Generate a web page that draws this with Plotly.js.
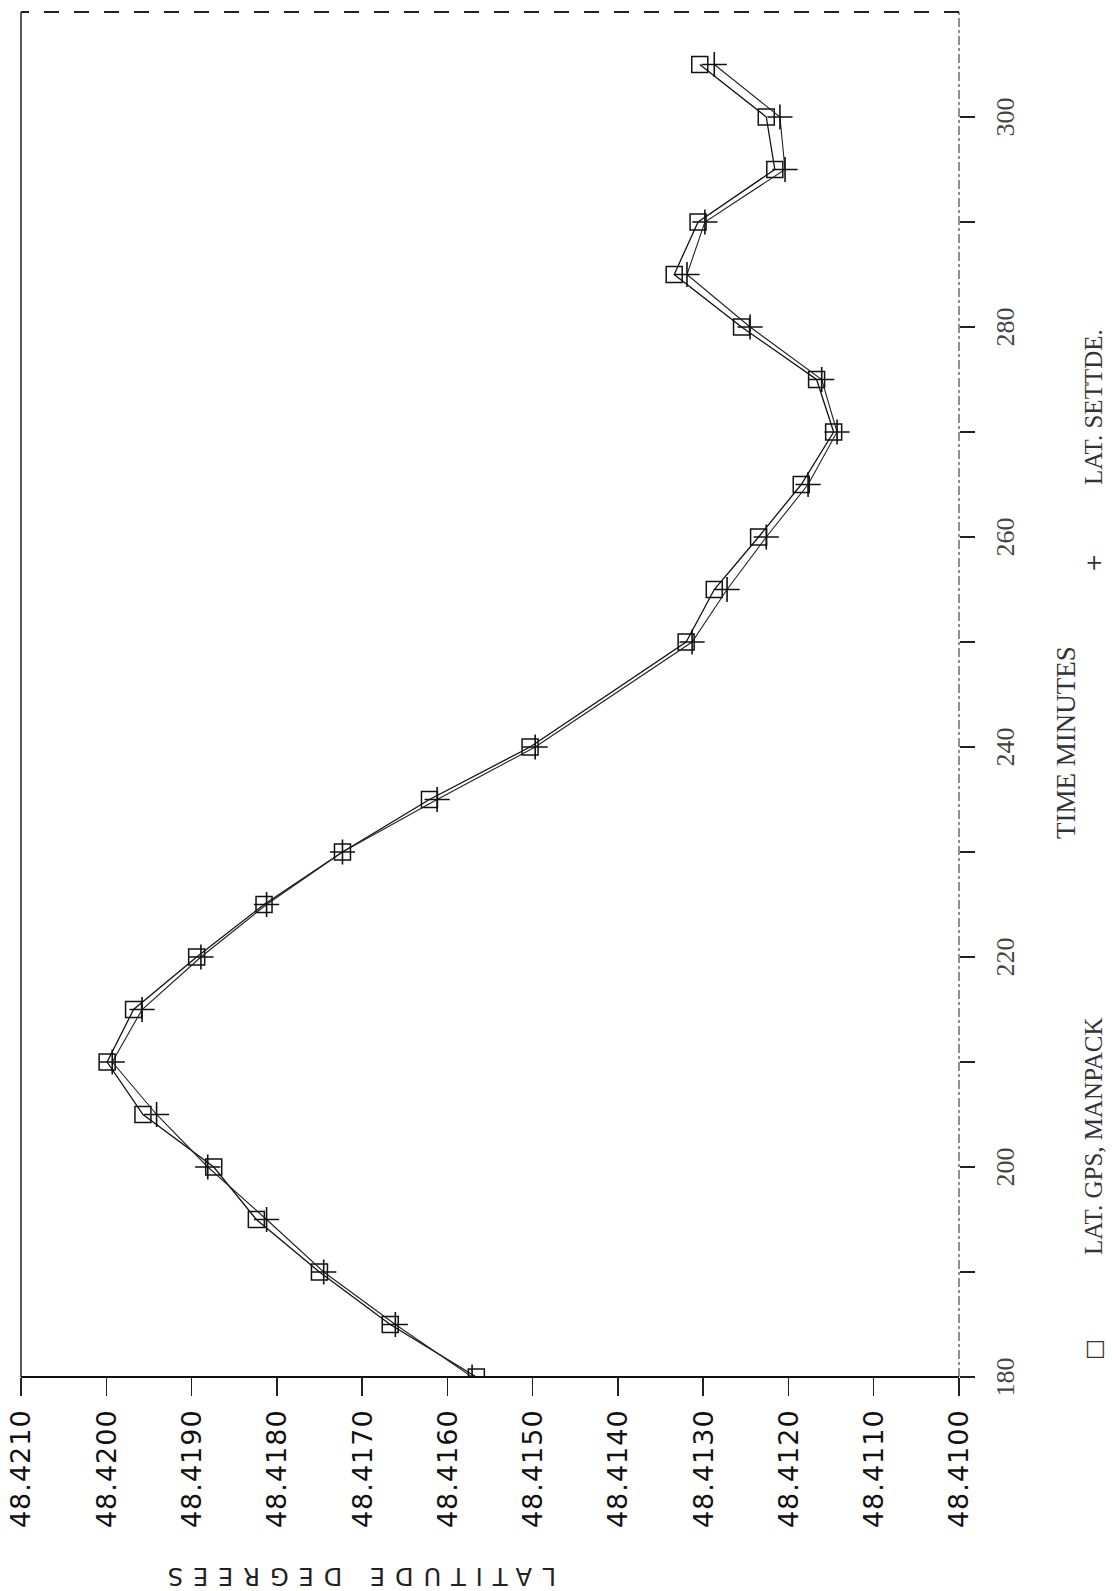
<!DOCTYPE html>
<html>
<head>
<meta charset="utf-8">
<script src="https://cdn.plot.ly/plotly-3.0.1.min.js"></script>
<style>
  html, body { margin: 0; padding: 0; width: 1112px; height: 1591px; overflow: hidden; background: #fff; }
  #chart { position: absolute; left: 0; top: 0; width: 1591px; height: 1112px;
           transform-origin: 0 0; transform: translate(0px, 1591px) rotate(-90deg); }
  .ytick text { letter-spacing: 1px; }
</style>
</head>
<body>
<div id="chart"></div>
<script>
// Time in minutes
const timeMinutes = [180, 185, 190, 195, 200, 205, 210, 215, 220, 225, 230, 235, 240,
                     250, 255, 260, 265, 270, 275, 280, 285, 290, 295, 300, 305];
// Latitude from GPS manpack (squares)
const latGpsManpack = [48.41566, 48.41667, 48.41750, 48.41824, 48.41874, 48.41957, 48.41999,
                       48.41968, 48.41894, 48.41815, 48.41723, 48.41621, 48.41503,
                       48.41320, 48.41287, 48.41235, 48.41185, 48.41147, 48.41167,
                       48.41255, 48.41334, 48.41306, 48.41216, 48.41226, 48.41304];
// Second latitude series (crosses)
const latSecond = [48.41571, 48.41661, 48.41745, 48.41812, 48.41881, 48.41941, 48.41993,
                   48.41958, 48.41889, 48.41812, 48.41723, 48.41612, 48.41497,
                   48.41313, 48.41272, 48.41226, 48.41177, 48.41143, 48.41161,
                   48.41245, 48.41319, 48.41298, 48.41204, 48.41210, 48.41287];

const timeTickVals = [180, 190, 200, 210, 220, 230, 240, 250, 260, 270, 280, 290, 300];
const timeTickText = ['180', '', '200', '', '220', '', '240', '', '260', '', '280', '', '300'];
const latTickVals = [48.4100, 48.4110, 48.4120, 48.4130, 48.4140, 48.4150, 48.4160,
                     48.4170, 48.4180, 48.4190, 48.4200, 48.4210];
const latTickText = ['48.4100', '48.4110', '48.4120', '48.4130', '48.4140', '48.4150', '48.4160',
                     '48.4170', '48.4180', '48.4190', '48.4200', '48.4210'];

const xTitle = 'TIME MINUTES';
const yTitle = 'LATITUDE DEGREES';
const legend1 = 'LAT. GPS, MANPACK';
const legend2 = 'LAT. SETTDE.';

// plot area in landscape pixels
const W = 1591, H = 1112;
const M = {l: 214, r: 12, t: 21, b: 153};
const pw = W - M.l - M.r, ph = H - M.t - M.b;
const px = v => (v - M.l) / pw;
const py = v => 1 - (v - M.t) / ph;

const traces = [
  {
    x: timeMinutes, y: latGpsManpack, type: 'scatter', mode: 'lines+markers',
    line: {color: '#111', width: 1.3},
    marker: {symbol: 'square-open', size: 16, color: '#111', line: {width: 1.5, color: '#111'}},
    showlegend: false
  },
  {
    x: timeMinutes, y: latSecond, type: 'scatter', mode: 'lines+markers',
    line: {color: '#222', width: 1.1},
    marker: {symbol: 'cross-thin-open', size: 18, color: '#111', line: {width: 1.6, color: '#111'}},
    showlegend: false
  }
];

const labelFont = {family: 'Liberation Serif, serif', size: 25, color: '#333'};

const layout = {
  width: W, height: H,
  margin: M,
  paper_bgcolor: '#fff', plot_bgcolor: '#fff',
  showlegend: false,
  xaxis: {
    range: [180, 310], showgrid: false, zeroline: false, showline: false,
    tickmode: 'array', tickvals: timeTickVals, ticktext: timeTickText,
    ticks: 'outside', ticklen: 15, tickwidth: 1.5, tickcolor: '#222',
    ticklabelstandoff: 8,
    tickfont: {family: 'Liberation Serif, serif', size: 26, color: '#444'}
  },
  yaxis: {
    range: [48.4100, 48.4210], showgrid: false, zeroline: false, showline: false,
    tickmode: 'array', tickvals: latTickVals, ticktext: latTickText,
    ticks: 'outside', ticklen: 18, tickwidth: 1.5, tickcolor: '#222',
    ticklabelstandoff: 8,
    tickfont: {family: 'DejaVu Sans, sans-serif', size: 27, color: '#111'}
  },
  shapes: [
    // left (latitude axis) - solid
    {type: 'line', xref: 'paper', yref: 'paper', x0: 0, x1: 0, y0: 0, y1: 1, line: {color: '#111', width: 2}},
    // bottom (time axis) - dash-dot
    {type: 'line', xref: 'paper', yref: 'paper', x0: 0, x1: 1, y0: 0, y1: 0, line: {color: '#555', width: 1.3, dash: 'dashdot'}},
    // top - solid
    {type: 'line', xref: 'paper', yref: 'paper', x0: 0, x1: 1, y0: 1, y1: 1, line: {color: '#222', width: 1.5}},
    // right - long dash
    {type: 'line', xref: 'paper', yref: 'paper', x0: 1, x1: 1, y0: 0, y1: 1, line: {color: '#222', width: 1.8, dash: 'longdash'}}
  ],
  annotations: [
    {text: '<span style="letter-spacing:10px">' + yTitle + '</span>', xref: 'paper', yref: 'paper',
     x: px(15), y: py(357), textangle: -90, showarrow: false, xanchor: 'center', yanchor: 'middle',
     font: {family: 'DejaVu Sans, sans-serif', size: 24, color: '#222'}},
    {text: xTitle, xref: 'paper', yref: 'paper', x: px(848), y: py(1066), showarrow: false,
     xanchor: 'center', yanchor: 'middle', font: {family: 'Liberation Serif, serif', size: 27, color: '#333'}},
    {text: '\u25A1', xref: 'paper', yref: 'paper', x: px(241), y: py(1093), showarrow: false,
     xanchor: 'center', yanchor: 'middle', font: {family: 'DejaVu Sans, sans-serif', size: 22, color: '#333'}},
    {text: legend1, xref: 'paper', yref: 'paper', x: px(334), y: py(1093), showarrow: false,
     xanchor: 'left', yanchor: 'middle', font: labelFont},
    {text: '+', xref: 'paper', yref: 'paper', x: px(1028), y: py(1093), showarrow: false,
     xanchor: 'center', yanchor: 'middle', font: {family: 'DejaVu Sans, sans-serif', size: 22, color: '#333'}},
    {text: legend2, xref: 'paper', yref: 'paper', x: px(1104), y: py(1093), showarrow: false,
     xanchor: 'left', yanchor: 'middle', font: labelFont}
  ]
};

Plotly.newPlot('chart', traces, layout, {staticPlot: true, displayModeBar: false});
</script>
</body>
</html>
